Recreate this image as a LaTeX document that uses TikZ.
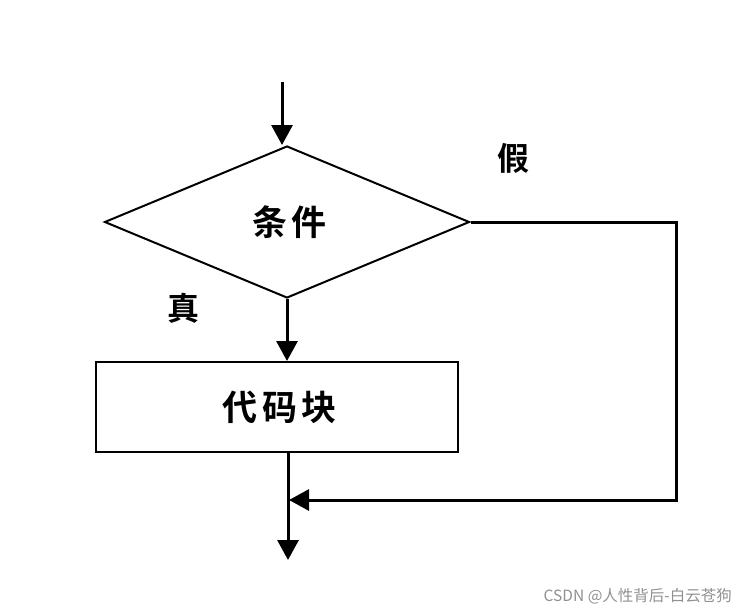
\documentclass[tikz,border=0pt]{standalone}
\usepackage{fontspec}
\usepackage{tikz}
\usetikzlibrary{
  arrows.meta,
  shapes.geometric,
  positioning,
  calc
}
\newfontfamily\cjk{Noto Sans CJK SC}[BoldFont={Noto Sans CJK SC Bold}]
\newfontfamily\cjkwide{Noto Sans CJK SC}[BoldFont={Noto Sans CJK SC Bold}, LetterSpace=14]
\definecolor{fcLine}{HTML}{000000}
\definecolor{fcMark}{HTML}{909090}
\tikzset{
  fcnode/.style={
    draw=fcLine, line width=2pt, inner sep=0pt, font=\cjkwide\bfseries\fontsize{35}{38}\selectfont
  },
  decision/.style={fcnode, diamond, minimum width=365pt, minimum height=152pt},
  codeblock/.style={fcnode, rectangle, minimum width=362pt, minimum height=90pt},
  flow/.style={-{Triangle[length=20pt,width=21pt]}, line width=3pt, fcLine},
  tag/.style={font=\cjk\bfseries\fontsize{32}{35}\selectfont, inner sep=0pt},
  wmark/.style={font=\cjk\fontsize{15.5}{18}\selectfont, text=fcMark, inner sep=0pt}
}
\begin{document}
\begin{tikzpicture}[x=1pt, y=-1pt, node distance=4mm]
  \useasboundingbox (0,0) rectangle (746,613);
  \node[decision] (cond) at (287,222) {\hspace{5pt}条件};
  \node[codeblock] (body) at (277,407) {\hspace{5pt}代码块};
  \coordinate (entry) at (282,82);
  \coordinate (exit) at (288,560);
  \coordinate (merge) at (289,500);
  \node[tag] (no) at (513,158) {假};
  \node[tag] (yes) at (183,308) {真};
  \draw[flow] (entry) -- (entry |- cond.north);
  \draw[flow] (cond.south) -- (cond.south |- body.north);
  \draw[flow] (body.south -| exit) -- (exit);
  \draw[flow] (cond.east) -- (676,222) |- (merge);
  \node[wmark, anchor=east] (wm) at (732,596) {CSDN @人性背后-白云苍狗};
\end{tikzpicture}
\end{document}
